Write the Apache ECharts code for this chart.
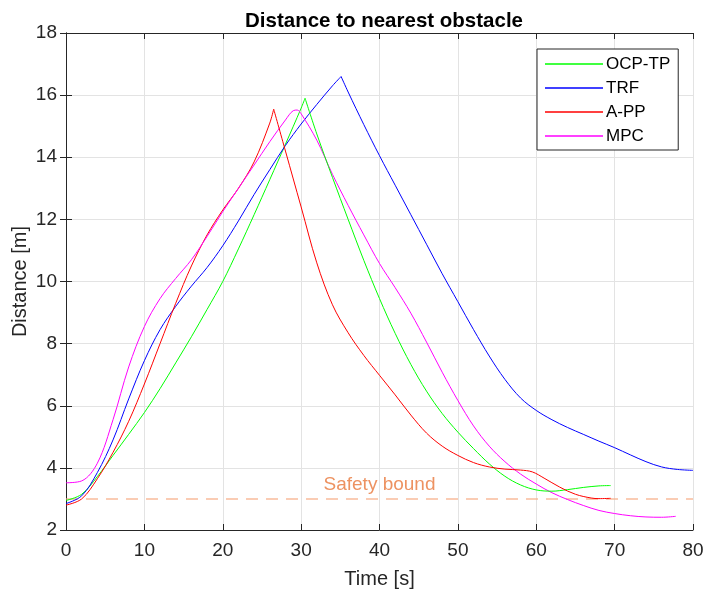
<!DOCTYPE html>
<html><head><meta charset="utf-8">
<script src="https://cdn.jsdelivr.net/npm/echarts@6/dist/echarts.min.js"></script>
<style>html,body{margin:0;padding:0;background:#fff}#c{width:708px;height:594px}</style>
</head><body><div id="c"></div>
<script>
var xTicks = [0,10,20,30,40,50,60,70,80];
var yTicks = [2,4,6,8,10,12,14,16,18];
var safetyBound = 3;
var safetyLabel = 'Safety bound';
var seriesNames = ['OCP-TP','TRF','A-PP','MPC'];

// OCP-TP: rising part, falling part (sharp peak)
var ocpUpT = [0,2,4,6,8,10,12,14,16,18,20,22,24,26,28,30,30.5];
var ocpUpY = [2.95,3.15,3.72,4.4,5.08,5.78,6.55,7.38,8.22,9.1,10.0,11.05,12.15,13.28,14.42,15.58,15.9];
var ocpDnT = [30.5,32,34,36,38,40,42,44,46,48,50,52,54,56,58,60,62,64,66,68,69.5];
var ocpDnY = [15.9,14.75,13.35,12.0,10.68,9.45,8.33,7.33,6.47,5.75,5.15,4.62,4.13,3.73,3.45,3.29,3.25,3.3,3.37,3.42,3.43];

// TRF
var trfUpT = [0,2,4,6,8,10,12,14,16,18,20,22,24,26,28,30,32,34,35.1];
var trfUpY = [2.85,3.1,3.85,4.9,6.22,7.45,8.45,9.2,9.85,10.45,11.15,11.95,12.8,13.6,14.38,15.07,15.7,16.3,16.6];
var trfDnT = [35.1,36,38,40,42,44,46,48,50,52,54,56,58,60,62,64,66,68,70,72,74,76,78,80];
var trfDnY = [16.6,16.1,15.05,14.05,13.1,12.15,11.2,10.25,9.35,8.45,7.6,6.85,6.25,5.85,5.55,5.3,5.08,4.86,4.65,4.42,4.2,4.03,3.95,3.92];

// A-PP
var appUpT = [0,2,4,6,8,10,12,14,16,18,20,22,24,26,26.5];
var appUpY = [2.8,3.0,3.65,4.5,5.5,6.7,8.0,9.3,10.5,11.5,12.3,13.0,13.85,15.1,15.55];
var appDnT = [26.5,28,30,32,34,36,38,40,42,44,46,48,50,52,54,56,58,59.5,61,63,65,67,68,69.5];
var appDnY = [15.55,14.2,12.4,10.6,9.25,8.35,7.62,6.98,6.35,5.7,5.12,4.7,4.4,4.17,4.03,3.96,3.93,3.87,3.67,3.38,3.15,3.03,3.01,3.02];

// MPC
var mpcT = [0,2,4,6,8,10,12,14,16,18,20,22,24,26,28,29,29.5,30,32,34,36,38,40,42,44,46,48,50,52,54,56,58,60,62,64,66,68,70,72,74,76,77.8];
var mpcY = [3.52,3.58,4.15,5.55,7.25,8.55,9.45,10.1,10.7,11.45,12.25,13.0,13.75,14.5,15.2,15.5,15.52,15.4,14.55,13.45,12.45,11.5,10.58,9.8,8.98,8.05,7.08,6.17,5.35,4.7,4.2,3.8,3.48,3.2,2.98,2.79,2.63,2.53,2.46,2.42,2.41,2.44];

function pairs(t,y){return t.map(function(v,i){return [v,y[i]];});}

var font = '"Liberation Sans", Arial, Helvetica, sans-serif';
var chart = echarts.init(document.getElementById('c'));
var axisLine = {show:true, lineStyle:{color:'#262626', width:1}};
var split = {show:true, lineStyle:{color:'#e3e3e3', width:1}};
var tick = {show:true, inside:true, length:6, lineStyle:{color:'#262626'}};
function line(name, data, color){
  return {name:name, type:'line', data:data, showSymbol:false, symbol:'none',
    smooth:0.35, lineStyle:{color:color, width:1}, itemStyle:{color:color}, z:3};
}
var colors = {'OCP-TP':'#00ff00','TRF':'#0000ff','A-PP':'#ff0000','MPC':'#ff00ff'};
chart.setOption({
  animation:false,
  title:{text:'Distance to nearest obstacle', left:379, top:6, textAlign:'center',
    textStyle:{fontFamily:font, fontSize:20.5, fontWeight:'bold', color:'#000'}},
  grid:{left:66, right:15, top:33, bottom:64, containLabel:false, outerBoundsMode:'none'},
  legend:{left:537, top:49, orient:'vertical', icon:'rect', itemWidth:58, itemHeight:1.5, itemGap:0,
    padding:[3,8,2,8], borderColor:'#262626', borderWidth:1, backgroundColor:'#fff',
    textStyle:{fontFamily:font, fontSize:17, color:'#000', lineHeight:24, padding:[0,0,0,-2]},
    data:seriesNames},
  xAxis:[
    {type:'value', min:xTicks[0], max:xTicks[xTicks.length-1], interval:10, position:'bottom', axisLine:axisLine,
      axisTick:tick, axisLabel:{fontFamily:font, fontSize:19, color:'#262626', margin:11},
      splitLine:split, name:'Time [s]', nameLocation:'middle', nameGap:39,
      nameTextStyle:{fontFamily:font, fontSize:20, color:'#262626'}},
    {type:'value', min:xTicks[0], max:xTicks[xTicks.length-1], interval:10, position:'top', axisLine:axisLine,
      axisTick:tick, axisLabel:{show:false}, splitLine:{show:false}}
  ],
  yAxis:[
    {type:'value', min:yTicks[0], max:yTicks[yTicks.length-1], interval:2, position:'left', axisLine:axisLine,
      axisTick:tick, axisLabel:{fontFamily:font, fontSize:19, color:'#262626', margin:9},
      splitLine:split, name:'Distance [m]', nameLocation:'middle', nameGap:36, nameRotate:90, nameMoveOverlap:false,
      nameTextStyle:{fontFamily:font, fontSize:20, color:'#262626'}},
    {type:'value', min:yTicks[0], max:yTicks[yTicks.length-1], interval:2, position:'right', axisLine:axisLine,
      axisTick:tick, axisLabel:{show:false}, splitLine:{show:false}}
  ],
  series:[
    line('OCP-TP', pairs(ocpUpT, ocpUpY), colors['OCP-TP']),
    line('TRF', pairs(trfUpT, trfUpY), colors['TRF']),
    line('A-PP', pairs(appUpT, appUpY), colors['A-PP']),
    line('MPC', pairs(mpcT, mpcY), colors['MPC']),
    line('OCP-TP', pairs(ocpDnT, ocpDnY), colors['OCP-TP']),
    line('TRF', pairs(trfDnT, trfDnY), colors['TRF']),
    line('A-PP', pairs(appDnT, appDnY), colors['A-PP']),
    {name:'bound', type:'line', data:[[xTicks[0],safetyBound],[xTicks[xTicks.length-1],safetyBound]], showSymbol:false, symbol:'none',
      lineStyle:{color:'rgba(246,170,130,0.8)', width:1.5, type:[12,8]}, z:2, silent:true},
    {name:'boundLabel', type:'scatter', data:[[40,safetyBound]], symbolSize:0.01, silent:true, z:4,
      label:{show:true, formatter:safetyLabel, position:'top', distance:5, fontFamily:font, fontSize:19, color:'#e8773a'}}
  ]
});
</script></body></html>
